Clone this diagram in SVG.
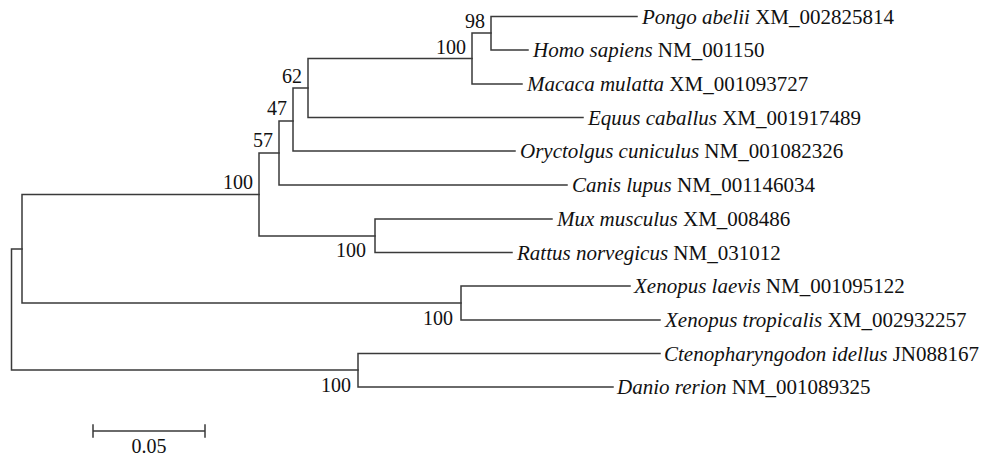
<svg xmlns="http://www.w3.org/2000/svg" width="987" height="457" viewBox="0 0 987 457">
<style>
.br{fill:none;stroke:#3a3a3a;stroke-width:1.5;stroke-linecap:square}
.lf{font-family:"Liberation Serif","Times New Roman",serif;font-size:21px;fill:#111}
.sp{font-style:italic}
.bs{font-family:"Liberation Serif","Times New Roman",serif;font-size:20px;fill:#111;text-anchor:end}
.sc{font-family:"Liberation Serif","Times New Roman",serif;font-size:20px;fill:#111;text-anchor:middle}
</style>
<rect width="987" height="457" fill="#ffffff"/>
<g id="connectors" class="br">
<path d="M11.5 249V370M11.5 249H22M11.5 370H358"/>
<path d="M22 194.5V303M22 194.5H259M22 303H461"/>
<path d="M259 153V236M259 153H279M259 236H375"/>
<path d="M279 121V185M279 121H293M279 185H567"/>
<path d="M293 88V151M293 88H308M293 151H515"/>
<path d="M308 58.5V117.5M308 58.5H472M308 117.5H583"/>
<path d="M472 33V84M472 33H491M472 84H522"/>
<path d="M491 16.5V50M491 16.5H637M491 50H528"/>
<path d="M375 219V252.5M375 219H552M375 252.5H512"/>
<path d="M461 286V320M461 286H630M461 320H660"/>
<path d="M358 353.5V387M358 353.5H660M358 387H613"/>
</g>
<g id="n98"><text class="bs" x="485" y="28">98</text></g>
<g id="nPrimates"><text class="bs" x="466" y="53.5">100</text></g>
<g id="n62"><text class="bs" x="302" y="83">62</text></g>
<g id="n47"><text class="bs" x="287" y="115">47</text></g>
<g id="n57"><text class="bs" x="273" y="147">57</text></g>
<g id="nMammals"><text class="bs" x="253" y="189">100</text></g>
<g id="nRodents"><text class="bs" x="366" y="257">100</text></g>
<g id="nXenopus"><text class="bs" x="453" y="325">100</text></g>
<g id="nFish"><text class="bs" x="351" y="392">100</text></g>
<g id="leaf-pongo"><text class="lf" x="642" y="23.5"><tspan class="sp">Pongo abelii</tspan> XM_002825814</text></g>
<g id="leaf-homo"><text class="lf" x="533" y="57"><tspan class="sp">Homo sapiens</tspan> NM_001150</text></g>
<g id="leaf-macaca"><text class="lf" x="527" y="91"><tspan class="sp">Macaca mulatta</tspan> XM_001093727</text></g>
<g id="leaf-equus"><text class="lf" x="588" y="124.5"><tspan class="sp">Equus caballus</tspan> XM_001917489</text></g>
<g id="leaf-oryctolgus"><text class="lf" x="520" y="158"><tspan class="sp">Oryctolgus cuniculus</tspan> NM_001082326</text></g>
<g id="leaf-canis"><text class="lf" x="572" y="192"><tspan class="sp">Canis lupus</tspan> NM_001146034</text></g>
<g id="leaf-mus"><text class="lf" x="557" y="226"><tspan class="sp">Mux musculus</tspan> XM_008486</text></g>
<g id="leaf-rattus"><text class="lf" x="517" y="259.5"><tspan class="sp">Rattus norvegicus</tspan> NM_031012</text></g>
<g id="leaf-xlaevis"><text class="lf" x="634" y="293"><tspan class="sp">Xenopus laevis</tspan> NM_001095122</text></g>
<g id="leaf-xtropicalis"><text class="lf" x="665" y="327"><tspan class="sp">Xenopus tropicalis</tspan> XM_002932257</text></g>
<g id="leaf-cteno"><text class="lf" x="664" y="360.5"><tspan class="sp">Ctenopharyngodon idellus</tspan> JN088167</text></g>
<g id="leaf-danio"><text class="lf" x="617" y="394"><tspan class="sp">Danio rerion</tspan> NM_001089325</text></g>
<g id="scalebar">
<path class="br" d="M93 431H205M93 425V437M205 425V437"/>
<text class="sc" x="149" y="453">0.05</text>
</g>
</svg>
